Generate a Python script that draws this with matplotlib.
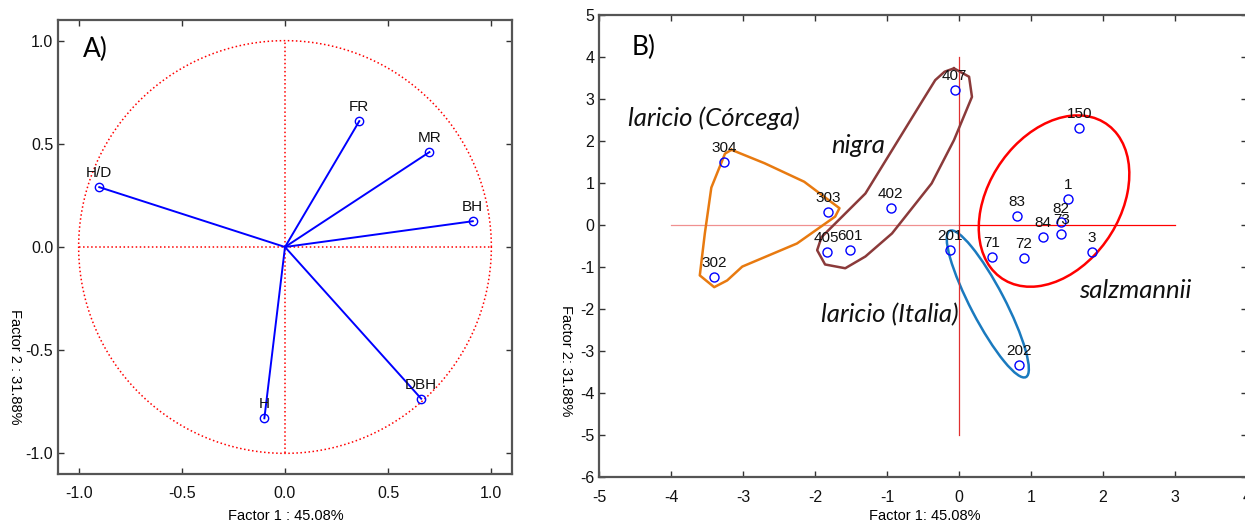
import numpy as np
import matplotlib.pyplot as plt
from matplotlib.patches import Circle
from matplotlib.transforms import Affine2D

plt.rcParams['font.family'] = ['Liberation Sans', 'DejaVu Sans']
plt.rcParams['axes.unicode_minus'] = False

# panel A: variable loadings
var_names = ['H/D', 'FR', 'MR', 'BH', 'DBH', 'H']
var_f1 = [-0.90, 0.36, 0.70, 0.91, 0.66, -0.10]
var_f2 = [0.29, 0.61, 0.46, 0.125, -0.735, -0.83]

# panel B: provenance scores
prov_names = ['304', '302', '303', '405', '601', '402', '407', '201', '202',
              '71', '72', '84', '83', '1', '82', '73', '3', '150']
prov_f1 = [-3.26, -3.40, -1.82, -1.84, -1.51, -0.95, -0.06, -0.125, 0.84,
           0.46, 0.90, 1.16, 0.81, 1.52, 1.41, 1.42, 1.85, 1.67]
prov_f2 = [1.50, -1.23, 0.32, -0.64, -0.60, 0.40, 3.21, -0.595, -3.33,
           -0.75, -0.78, -0.29, 0.22, 0.63, 0.06, -0.21, -0.64, 2.32]

# hand drawn group outlines
corsica_x = [-3.16, -2.70, -2.15, -1.66, -1.72, -2.25, -3.01, -3.22, -3.40, -3.60, -3.53, -3.44, -3.25, -3.16]
corsica_y = [1.79, 1.47, 1.03, 0.40, 0.20, -0.44, -0.99, -1.32, -1.48, -1.20, -0.20, 0.89, 1.70, 1.79]
nigra_x = [-0.07, 0.14, 0.18, -0.07, -0.38, -0.93, -1.30, -1.58, -1.86, -1.97, -1.91, -1.30, -0.50, -0.33, -0.20, -0.07]
nigra_y = [3.73, 3.53, 3.05, 2.02, 0.99, -0.20, -0.75, -1.03, -0.94, -0.60, -0.29, 0.75, 2.98, 3.45, 3.65, 3.73]

# ellipses: centre, first and second axis vectors
salz_c, salz_u, salz_v = (1.32, 0.57), (1.02, 0.20), (0.23, 2.03)
italia_c, italia_u, italia_v = (0.40, -1.88), (0.21, 0.19), (-0.53, 1.74)

groups = [('laricio (Córcega)', -4.6, 2.55), ('nigra', -1.77, 1.9),
          ('laricio (Italia)', -1.91, -2.14), ('salzmannii', 1.67, -1.55)]

W, H = 1245, 526
fig = plt.figure(figsize=(W / 100, H / 100), dpi=100)


def style_axes(ax):
    for s in ax.spines.values():
        s.set_color('#555555')
        s.set_linewidth(1.6)
    ax.tick_params(direction='in', length=4, width=1, color='#333333',
                   top=True, right=True, labelsize=11.5, labelcolor='#111111')


# ---- A ----
axA = fig.add_axes([58 / W, 1 - 474 / H, 454 / W, 454 / H])
axA.set_xlim(-1.1, 1.1)
axA.set_ylim(-1.1, 1.1)
style_axes(axA)
ticks = [-1.0, -0.5, 0.0, 0.5, 1.0]
axA.set_xticks(ticks)
axA.set_yticks(ticks)
axA.set_xticklabels(['%.1f' % t for t in ticks])
axA.set_yticklabels(['%.1f' % t for t in ticks])
axA.tick_params(axis='x', pad=9)

th = np.linspace(0, 2 * np.pi, 400)
axA.plot(np.cos(th), np.sin(th), ':', color='red', lw=1.1)
axA.plot([-1, 1], [0, 0], ':', color='red', lw=1.1)
axA.plot([0, 0], [-1, 1], ':', color='red', lw=1.1)

for n, x, y in zip(var_names, var_f1, var_f2):
    axA.plot([0, x], [0, y], color='blue', lw=1.4)
    axA.plot(x, y, 'o', mfc='none', mec='blue', ms=6, mew=1)
    axA.annotate(n, (x, y), xytext=(0, 5), textcoords='offset points',
                 ha='center', va='bottom', fontsize=11, color='#111111')
axA.text(-0.98, 0.92, 'A)', fontsize=19, family='Lato')

# ---- B ----
axB = fig.add_axes([599 / W, 1 - 477 / H, 648 / W, 462 / H])
axB.set_xlim(-5, 4)
axB.set_ylim(-6, 5)
style_axes(axB)
axB.set_xticks(range(-5, 5))
axB.set_yticks(range(-6, 6))
axB.tick_params(axis='x', pad=9)

axB.plot([-4, 0], [0, 0], color='#f09090', lw=0.9)
axB.plot([0, 3], [0, 0], color='red', lw=0.9)
axB.plot([0, 0], [-5, 4], color='#e03030', lw=0.9)

axB.plot(corsica_x, corsica_y, color='#e87a10', lw=1.8, solid_joinstyle='round')
axB.plot(nigra_x, nigra_y, color='#8b3a3a', lw=1.8, solid_joinstyle='round')
for c, u, v, col in [(salz_c, salz_u, salz_v, 'red'), (italia_c, italia_u, italia_v, '#1a7abf')]:
    tr = Affine2D.from_values(u[0], u[1], v[0], v[1], c[0], c[1]) + axB.transData
    axB.add_patch(Circle((0, 0), 1, fill=False, ec=col, lw=1.8, transform=tr))

axB.plot(prov_f1, prov_f2, 'o', mfc='none', mec='blue', ms=6.5, mew=1)
for n, x, y in zip(prov_names, prov_f1, prov_f2):
    axB.annotate(n, (x, y), xytext=(0, 5), textcoords='offset points',
                 ha='center', va='bottom', fontsize=11, color='#111111')

for lab, x, y in groups:
    axB.text(x, y, lab, fontsize=18.5, style='italic', family='Lato',
             ha='left', va='center', color='#111111')
axB.text(-4.55, 4.05, 'B)', fontsize=19, family='Lato')

# axis titles
fig.text(286 / W, 1 - 516 / H, 'Factor 1 : 45.08%', ha='center', va='center', fontsize=10.5)
fig.text(15 / W, 1 - 367 / H, 'Factor 2 : 31.88%', ha='center', va='center', fontsize=10.5, rotation=270)
fig.text(925 / W, 1 - 516 / H, 'Factor 1: 45.08%', ha='center', va='center', fontsize=10.5)
fig.text(566 / W, 1 - 361 / H, 'Factor 2: 31.88%', ha='center', va='center', fontsize=10.5, rotation=270)

fig.savefig('out.png', dpi=100)
